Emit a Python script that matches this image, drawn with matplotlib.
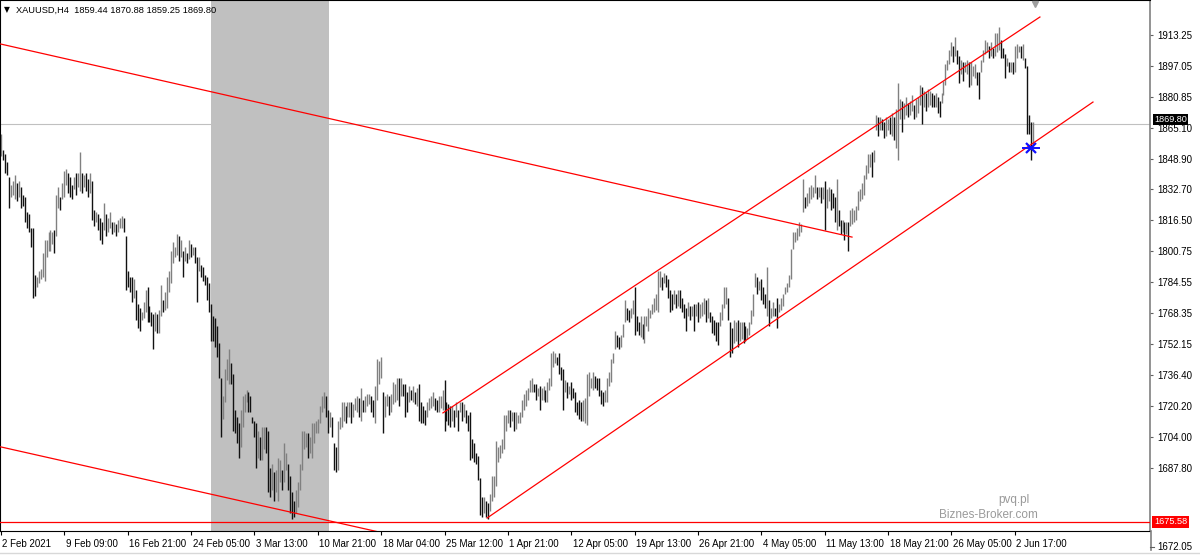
import numpy as np
import matplotlib
matplotlib.use("Agg")
import matplotlib.pyplot as plt
from matplotlib.transforms import blended_transform_factory, ScaledTranslation
from matplotlib.lines import Line2D

# ---------------- data (XAUUSD H4 bars) ----------------
high = [
    1865,1857,1855,1851,1844,1840,1842,1845,1841,1842,
    1839,1835,1834,1827,1826,1819,1819,1796,1795,1798,
    1799,1807,1813,1813,1817,1818,1817,1818,1835,1839,
    1834,1841,1847,1848,1846,1844,1840,1844,1846,1846,
    1856,1846,1845,1846,1843,1846,1842,1828,1827,1826,
    1824,1822,1831,1826,1824,1827,1822,1822,1821,1823,
    1824,1825,1824,1815,1798,1795,1795,1794,1789,1782,
    1780,1778,1783,1789,1790,1781,1778,1777,1778,1777,
    1779,1791,1784,1788,1795,1798,1808,1812,1810,1816,
    1815,1813,1808,1810,1807,1813,1811,1810,1810,1805,
    1805,1801,1800,1796,1795,1792,1782,1776,1775,1771,
    1763,1746,1737,1750,1755,1760,1753,1748,1730,1727,
    1724,1730,1737,1738,1740,1739,1737,1727,1725,1724,
    1720,1717,1722,1722,1722,1720,1702,1704,1700,1701,
    1707,1706,1701,1714,1709,1704,1698,1690,1686,1691,
    1695,1704,1720,1720,1719,1719,1717,1724,1724,1725,
    1726,1732,1737,1739,1737,1730,1729,1727,1714,1712,
    1725,1727,1734,1734,1732,1734,1734,1734,1733,1736,
    1737,1736,1741,1735,1737,1738,1738,1737,1735,1742,
    1755,1754,1756,1739,1737,1738,1737,1738,1744,1743,
    1746,1746,1746,1743,1743,1739,1742,1740,1742,1739,
    1741,1743,1734,1732,1730,1734,1736,1737,1739,1736,
    1735,1737,1737,1740,1745,1734,1733,1732,1732,1730,
    1734,1730,1734,1734,1733,1730,1728,1729,1716,1714,
    1709,1708,1697,1688,1688,1686,1685,1689,1698,1698,
    1715,1712,1713,1716,1728,1728,1730,1730,1729,1729,
    1729,1728,1729,1735,1738,1740,1741,1745,1746,1743,
    1743,1741,1742,1741,1742,1740,1744,1746,1758,1759,
    1758,1756,1758,1751,1750,1745,1744,1742,1744,1741,
    1739,1734,1735,1734,1735,1736,1748,1749,1746,1749,
    1747,1746,1746,1740,1739,1740,1746,1749,1755,1758,
    1769,1767,1766,1767,1772,1784,1780,1779,1780,1784,
    1790,1776,1773,1776,1772,1776,1776,1780,1779,1782,
    1785,1787,1798,1798,1795,1797,1796,1794,1789,1787,
    1789,1787,1789,1789,1785,1782,1780,1783,1781,1781,
    1782,1782,1783,1782,1783,1785,1784,1785,1778,1776,
    1774,1773,1773,1778,1782,1790,1790,1785,1773,1770,
    1774,1773,1774,1773,1773,1773,1771,1770,1773,1779,
    1787,1797,1795,1793,1794,1790,1787,1800,1784,1780,
    1783,1780,1785,1782,1785,1787,1790,1792,1796,1809,
    1817,1817,1819,1822,1821,1843,1834,1836,1839,1840,
    1839,1845,1839,1839,1839,1839,1842,1838,1839,1838,
    1836,1834,1843,1828,1823,1823,1822,1822,1822,1828,
    1829,1828,1830,1837,1838,1841,1845,1850,1855,1855,
    1856,1857,1874,1873,1873,1872,1871,1873,1872,1873,
    1875,1873,1877,1890,1882,1881,1880,1883,1880,1881,
    1884,1879,1882,1883,1889,1888,1886,1885,1887,1886,
    1885,1884,1885,1883,1881,1885,1891,1899,1901,1906,
    1910,1908,1912,1906,1903,1901,1900,1900,1901,1900,
    1900,1898,1899,1895,1895,1901,1906,1911,1910,1908,
    1910,1907,1914,1914,1917,1911,1907,1904,1902,1900,
    1900,1900,1908,1909,1908,1908,1909,1902,1898,1874,
    1871,1871,
]
low = [
    1854,1852,1846,1845,1829,1834,1835,1833,1832,1834,
    1829,1830,1822,1819,1817,1810,1785,1786,1790,1792,
    1794,1795,1793,1805,1808,1808,1811,1807,1815,1829,
    1828,1833,1834,1840,1836,1834,1833,1838,1835,1839,
    1837,1836,1839,1837,1834,1836,1823,1820,1822,1818,
    1813,1811,1818,1815,1817,1819,1816,1817,1815,1817,
    1819,1819,1817,1789,1790,1788,1783,1785,1774,1770,
    1769,1774,1775,1778,1773,1773,1771,1760,1769,1768,
    1768,1776,1778,1779,1780,1788,1792,1802,1805,1806,
    1803,1805,1795,1803,1802,1804,1805,1806,1802,1783,
    1798,1795,1793,1791,1784,1778,1764,1764,1761,1756,
    1746,1717,1726,1734,1745,1743,1743,1720,1719,1714,
    1707,1712,1722,1729,1734,1729,1729,1724,1717,1702,
    1707,1706,1706,1711,1709,1690,1688,1691,1686,1690,
    1686,1695,1691,1695,1701,1691,1680,1677,1678,1680,
    1683,1691,1701,1711,1712,1707,1709,1707,1714,1719,
    1719,1724,1729,1731,1727,1719,1722,1717,1701,1700,
    1701,1721,1722,1725,1724,1727,1727,1724,1727,1730,
    1729,1727,1725,1729,1729,1732,1733,1729,1727,1724,
    1735,1743,1746,1719,1727,1732,1728,1729,1733,1734,
    1735,1732,1737,1737,1727,1729,1734,1735,1734,1733,
    1732,1725,1724,1724,1723,1727,1730,1731,1732,1730,
    1729,1729,1731,1730,1720,1725,1723,1722,1725,1722,
    1727,1720,1729,1725,1727,1724,1720,1706,1707,1705,
    1704,1696,1679,1678,1680,1678,1677,1681,1686,1688,
    1693,1705,1707,1709,1711,1720,1724,1722,1725,1720,
    1721,1724,1724,1727,1730,1732,1735,1739,1739,1739,
    1735,1737,1730,1735,1735,1734,1734,1740,1742,1751,
    1753,1752,1748,1745,1730,1739,1736,1738,1735,1736,
    1729,1728,1726,1725,1725,1724,1723,1737,1741,1740,
    1741,1740,1737,1733,1732,1734,1734,1742,1744,1753,
    1760,1761,1760,1761,1766,1773,1774,1773,1775,1777,
    1767,1769,1767,1766,1765,1763,1771,1769,1775,1777,
    1778,1779,1778,1790,1789,1792,1790,1785,1778,1779,
    1782,1780,1781,1780,1778,1775,1769,1776,1774,1776,
    1769,1776,1773,1775,1776,1777,1773,1775,1773,1768,
    1767,1764,1762,1771,1774,1780,1782,1774,1756,1758,
    1763,1764,1761,1764,1765,1763,1764,1765,1767,1772,
    1776,1790,1787,1789,1784,1782,1780,1776,1771,1775,
    1776,1776,1770,1778,1779,1781,1787,1788,1790,1794,
    1809,1812,1813,1815,1817,1827,1829,1830,1831,1833,
    1834,1836,1833,1834,1831,1833,1818,1829,1832,1828,
    1829,1822,1818,1820,1816,1817,1813,1816,1808,1820,
    1821,1822,1823,1828,1832,1833,1835,1843,1846,1849,
    1844,1851,1867,1864,1867,1867,1863,1864,1867,1865,
    1864,1862,1858,1852,1872,1866,1872,1874,1873,1874,
    1876,1872,1873,1875,1879,1870,1878,1876,1878,1879,
    1878,1878,1878,1875,1873,1880,1884,1889,1896,1899,
    1903,1900,1903,1899,1890,1894,1891,1895,1894,1888,
    1889,1893,1892,1889,1882,1895,1900,1904,1905,1902,
    1903,1902,1903,1905,1906,1902,1902,1892,1898,1895,
    1895,1894,1895,1902,1905,1902,1901,1897,1865,1865,
    1852,1859,
]
date_labels = ["2 Feb 2021", "9 Feb 09:00", "16 Feb 21:00", "24 Feb 05:00",
               "3 Mar 13:00", "10 Mar 21:00", "18 Mar 04:00", "25 Mar 12:00",
               "1 Apr 21:00", "12 Apr 05:00", "19 Apr 13:00", "26 Apr 21:00",
               "4 May 05:00", "11 May 13:00", "18 May 21:00", "26 May 05:00",
               "2 Jun 17:00"]
bars_per_label = 32
price_labels = ["1913.25", "1897.05", "1880.85", "1865.10", "1848.90", "1832.70",
                "1816.50", "1800.75", "1784.55", "1768.35", "1752.15", "1736.40",
                "1720.20", "1704.00", "1687.80"]
bottom_label = "1672.05"
header = "XAUUSD,H4  1859.44 1870.88 1859.25 1869.80"
last_price = 1869.80
level_price = 1675.58
# drawn objects: (bar index, price)
down_upper = [(-1.0, 1909.0), (429.8, 1814.6)]
down_lower = [(-1.0, 1712.4), (200.0, 1668.7)]
chan_upper = [(223.2, 1728.8), (524.7, 1922.0)]
chan_lower = [(245.5, 1677.5), (551.5, 1880.5)]
shade_bars = (106.1, 165.7)
stop_mark = (520.2, 1858.1)

# ---------------- figure ----------------
W, H = 1200, 555
fig = plt.figure(figsize=(W / 100, H / 100), dpi=100)
fig.patch.set_facecolor("white")
ax = fig.add_axes([0, 24 / H, 1150 / W, 531 / H])
ax.set_xlim(-0.5, 580.3)
ax.set_ylim(1671.17, 1930.3)

FONT = "Liberation Sans"
FS = 7

hi = np.array(high, float)
lo = np.array(low, float)
assert len(hi) == len(lo)
x = np.arange(len(hi))
mid = (hi + lo) / 2
up = np.r_[True, mid[1:] >= mid[:-1]]
cols = np.where(up, "#808080", "#111111")

ax.axvspan(*shade_bars, color="#c0c0c0", zorder=0, lw=0)
ax.axhline(last_price, color="#c0c0c0", lw=0.8, zorder=1)
ax.vlines(x, lo, hi, colors=cols, linewidth=1.0, zorder=2)

red = "#ff0000"
for seg in (down_upper, down_lower, chan_upper, chan_lower):
    (x0, y0), (x1, y1) = seg
    ax.plot([x0, x1], [y0, y1], color=red, lw=0.9, zorder=3)
ax.axhline(level_price, color=red, lw=0.9, zorder=3)

ax.plot(*stop_mark, marker="x", color="#1010ff", ms=7, mew=1.6, zorder=4)
ax.plot(*stop_mark, marker="_", color="#1010ff", ms=13, mew=1.4, zorder=4)
btr = blended_transform_factory(ax.transData, ax.transAxes)
ax.plot([522.2], [0.992], marker="v", color="#a0a0a0", ms=5, transform=btr,
        clip_on=False, zorder=4)

# axes frame
for s in ("left", "top", "bottom"):
    ax.spines[s].set_color("black")
    ax.spines[s].set_linewidth(0.8)
ax.spines["right"].set_color("#808080")
ax.spines["right"].set_linewidth(1.2)
fig.add_artist(Line2D([1150.5 / W] * 2, [5 / H, 24 / H], color="#808080", lw=1.2))
fig.add_artist(Line2D([0, 1], [2 / H] * 2, color="#d8d8d8", lw=1.0))

# x ticks
ax.set_xticks([k * bars_per_label for k in range(len(date_labels))])
ax.set_xticklabels(date_labels, ha="left", fontsize=FS, family=FONT)
ax.tick_params(axis="x", direction="out", length=3, width=0.8, pad=2.6,
               color="black")
off = ScaledTranslation(1.5 / 100, 0, fig.dpi_scale_trans)
for lbl in ax.get_xticklabels():
    lbl.set_transform(lbl.get_transform() + off)

# y ticks on the right (MT4 places the labels evenly spaced)
ax.yaxis.tick_right()
ypos = [1913.25 - 15.08 * k for k in range(len(price_labels))]
ax.set_yticks(ypos)
ax.set_yticklabels(price_labels, fontsize=FS, family=FONT)
ax.tick_params(axis="y", direction="out", length=2.5, width=0.8, pad=2.5,
               color="#606060")
fig.text(1157 / W, 1 - 547 / H, bottom_label, fontsize=FS, family=FONT,
         va="center", ha="left")
fig.add_artist(Line2D([1150 / W, 1154 / W], [1 - 547 / H] * 2, color="#606060", lw=0.8))

# price boxes (the current-price box sits just above its line, as in MT4)
bty = blended_transform_factory(ax.transAxes, ax.transData)
box_off = ScaledTranslation(0, 4.5 / 100, fig.dpi_scale_trans)
ax.text(1 + 4 / 1150, last_price, f"{last_price:.2f}", transform=bty + box_off,
        color="white", fontsize=6.6, family=FONT, va="center", ha="left",
        clip_on=False, zorder=6,
        bbox=dict(facecolor="black", edgecolor="none", pad=0.7))
ax.text(1 + 4 / 1150, level_price, f"{level_price:.2f}", transform=bty, color="white",
        fontsize=6.6, family=FONT, va="center", ha="left", clip_on=False, zorder=6,
        bbox=dict(facecolor=red, edgecolor="none", pad=1.1))

# header & watermark
fig.text(4 / W, 1 - 10 / H, "\u25bc", fontsize=5.5, va="center", ha="left",
         family="DejaVu Sans")
fig.text(16 / W, 1 - 10 / H, header, fontsize=6.7, family=FONT, va="center", ha="left")
fig.text(1030 / W, 1 - 500 / H, "pvq.pl", fontsize=8.5, family=FONT, color="#9a9a9a",
         va="center", ha="right")
fig.text(1038 / W, 1 - 515 / H, "Biznes-Broker.com", fontsize=8.5, family=FONT,
         color="#9a9a9a", va="center", ha="right")

fig.savefig("out.png", dpi=100, facecolor="white")
